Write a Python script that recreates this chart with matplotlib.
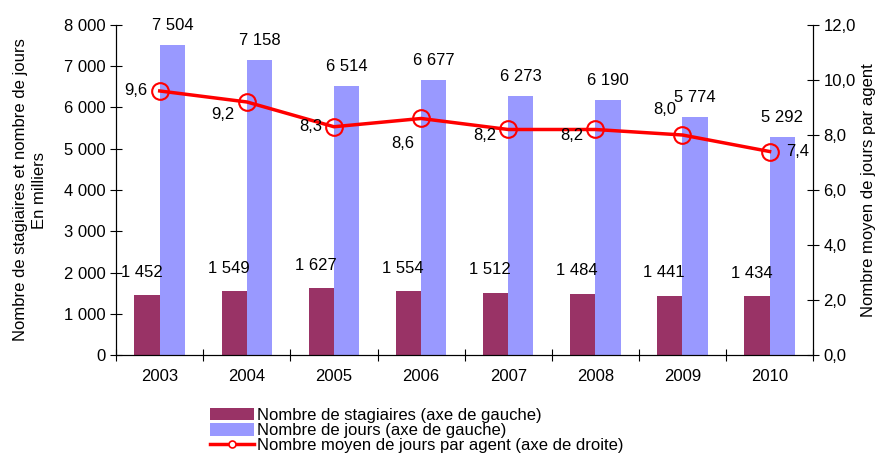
import numpy as np
import matplotlib.pyplot as plt
from matplotlib.ticker import FuncFormatter, MultipleLocator
from matplotlib.lines import Line2D

plt.rcParams['font.family'] = ['Liberation Sans', 'DejaVu Sans']

years = ['2003', '2004', '2005', '2006', '2007', '2008', '2009', '2010']
stagiaires = [1452, 1549, 1627, 1554, 1512, 1484, 1441, 1434]
jours = [7504, 7158, 6514, 6677, 6273, 6190, 5774, 5292]
moyen = [9.6, 9.2, 8.3, 8.6, 8.2, 8.2, 8.0, 7.4]

# label offsets (points) for the line values
moy_off = [(-17, 0), (-17, -9), (-17, 0), (-13, -18), (-17, -4), (-17, -4), (-13, 18), (20, 0)]

def fr_int(v):
    return '{:,.0f}'.format(v).replace(',', ' ')

fs = 12
fig = plt.figure(figsize=(8.8, 4.53), dpi=100)
ax = fig.add_axes([0.132, 0.216, 0.792, 0.729])
x = np.arange(len(years))
w = 0.29
b1 = ax.bar(x - w/2, stagiaires, w, color='#993366')
b2 = ax.bar(x + w/2, jours, w, color='#9999FF')
ax.set_xlim(-0.5, len(years) - 0.5)
ax.set_ylim(0, 8000)
ax.yaxis.set_major_locator(MultipleLocator(1000))
ax.yaxis.set_major_formatter(FuncFormatter(lambda v, p: fr_int(v)))
ax.set_xticks(np.arange(len(years) + 1) - 0.5)
ax.set_xticklabels([])
ax.set_xticks(x, minor=True)
ax.set_xticklabels(years, minor=True)
ax.tick_params(axis='x', which='minor', length=0, pad=10, labelsize=fs)
ax.tick_params(axis='x', which='major', direction='inout', length=8)
ax.tick_params(axis='y', direction='inout', length=8, labelsize=fs)
ax.spines['top'].set_visible(False)
ax.set_ylabel('Nombre de stagiaires et nombre de jours\nEn milliers', fontsize=fs,
              labelpad=12, linespacing=1.35)

for xi, v in zip(x, stagiaires):
    ax.annotate(fr_int(v), (xi - w/2, v), xytext=(-4, 16.5), textcoords='offset points',
                ha='center', va='center', fontsize=fs)
for xi, v in zip(x, jours):
    ax.annotate(fr_int(v), (xi + w/2, v), xytext=(0, 14), textcoords='offset points',
                ha='center', va='center', fontsize=fs)

ax2 = ax.twinx()
ln, = ax2.plot(x, moyen, color='#FF0000', lw=2.5, marker='o', ms=12, mfc='none', mec='#FF0000',
               mew=1.5)
ax2.set_ylim(0, 12)
ax2.yaxis.set_major_locator(MultipleLocator(2))
ax2.yaxis.set_major_formatter(FuncFormatter(lambda v, p: '{:.1f}'.format(v).replace('.', ',')))
ax2.tick_params(axis='y', direction='inout', length=8, labelsize=fs)
ax2.spines['top'].set_visible(False)
ax2.set_ylabel('Nombre moyen de jours par agent', fontsize=fs, labelpad=4)
for xi, v, off in zip(x, moyen, moy_off):
    ax2.annotate('{:.1f}'.format(v).replace('.', ','), (xi, v), xytext=off, textcoords='offset points',
                 ha='center', va='center', fontsize=fs)

leg_line = Line2D([], [], color='#FF0000', lw=2.5, marker='o', ms=5, mfc='white', mec='#FF0000', mew=1.2)
fig.legend([b1, b2, leg_line],
           ['Nombre de stagiaires (axe de gauche)', 'Nombre de jours (axe de gauche)',
            'Nombre moyen de jours par agent (axe de droite)'],
           loc='upper left', bbox_to_anchor=(0.239, 0.100), frameon=False, fontsize=fs,
           handlelength=2.65, handleheight=0.8, labelspacing=0.0, borderpad=0,
           borderaxespad=0, handletextpad=0.15)

fig.savefig('out.png', dpi=100)
